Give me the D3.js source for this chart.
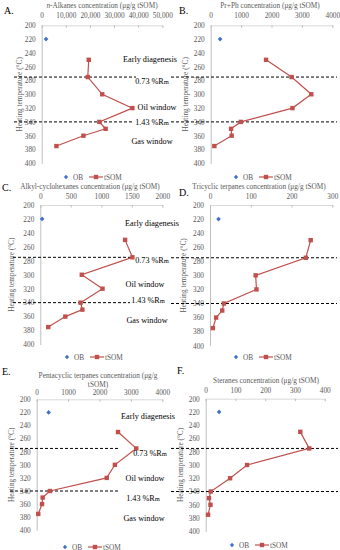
<!DOCTYPE html>
<html><head><meta charset="utf-8">
<script src="https://cdn.jsdelivr.net/npm/d3@7"></script>
<style>body{margin:0;background:#fff}svg{display:block}text{font-family:"Liberation Serif","Times New Roman",serif}</style>
</head><body>
<script>
// ---- data ----
const temps = [250, 275, 300, 320, 340, 350, 360, 375];
const obTemp = [220];
const alkanes = [19500, 19100, 25100, 37600, 23900, 26500, 17300, 6100];
const alkanesOB = [1800];
const prph = [1820, 2660, 3310, 2690, 990, 670, 690, 120];
const prphOB = [310];
const cyclohexanes = [1390, 1510, 680, 1020, 660, 690, 410, 130];
const cyclohexanesOB = [30];
const tricyclic = [247, 235, 112, 114, 34, 30, 15, 7];
const tricyclicOB = [21];
const pentacyclic = [2590, 3170, 2490, 2230, 420, 190, 170, 50];
const pentacyclicOB = [380];
const steranes = [318, 348, 139, 82, 17, 11, 16, 8];
const steranesOB = [45];
const tempTicks = [200, 220, 240, 260, 280, 300, 320, 340, 360, 380, 400];
const ticksA = [0, 10000, 20000, 30000, 40000, 50000];
const ticksB = [0, 1000, 2000, 3000, 4000];
const ticksC = [0, 500, 1000, 1500, 2000];
const ticksD = [0, 100, 200, 300];
const ticksE = [0, 1000, 2000, 3000, 4000];
const ticksF = [0, 100, 200, 300, 400];
const thresholds = [275, 340];
const zoneLabels = ["Early diagenesis", "0.73 %Rm", "Oil window", "1.43 %Rm", "Gas window"];
const seriesNames = ["OB", "tSOM"];

// ---- layout ----
const panels = [
  {id:"A.", vals:alkanes, ob:alkanesOB, ticks:ticksA, fmt:d3.format(","), label:["n-Alkanes concentration (μg/g tSOM)"], italicN:true,
   x0:41.7, x1:162.3, y0:25.3, y1:163.3, tx:4, ty:14, lx:102, ly:8, tly:18, ylx:22, legx:66, legy:177,
   zones:true, zoneY:[59,81,107,122,141], zoneX:[150,152,157,152,152], dash:[[14,136],[14,133]]},
  {id:"B.", vals:prph, ob:prphOB, ticks:ticksB, fmt:d3.format("d"), label:["Pr+Ph concentration (μg/g tSOM)"],
   x0:210.7, x1:332.3, y0:25.3, y1:163.3, tx:179, ty:14, lx:270, ly:8, tly:18, ylx:188, legx:236, legy:177,
   zones:false, dash:[[171,337],[171,337]]},
  {id:"C.", vals:cyclohexanes, ob:cyclohexanesOB, ticks:ticksC, fmt:d3.format("d"), label:["Alkyl-cyclohexanes  concentration (μg/g tSOM)"],
   x0:40.3, x1:162.3, y0:205, y1:344.5, tx:2, ty:191, lx:90, ly:189, tly:199, ylx:14, legx:67, legy:357,
   zones:true, zoneY:[223,260,284,300,320], zoneX:[152,152,145,148,147], dash:[[13,133],[13,130]]},
  {id:"D.", vals:tricyclic, ob:tricyclicOB, ticks:ticksD, fmt:d3.format("d"), label:["Tricyclic terpanes concentration (μg/g tSOM)"],
   x0:210, x1:332.3, y0:205, y1:345.7, tx:179, ty:196, lx:259, ly:189, tly:199, ylx:186, legx:236, legy:357,
   zones:false, dash:[[171,337],[171,337]]},
  {id:"E.", vals:pentacyclic, ob:pentacyclicOB, ticks:ticksE, fmt:d3.format("d"), label:["Pentacyclic terpanes concentration (μg/g","tSOM)"],
   x0:36.7, x1:162.3, y0:399.3, y1:530.3, tx:2, ty:375, lx:98, ly:378, tly:395, ylx:14, legx:65, legy:547,
   zones:true, zoneY:[416,453,478,498,518], zoneX:[148,150,145,143,144], dash:[[10,120],[10,120]]},
  {id:"F.", vals:steranes, ob:steranesOB, ticks:ticksF, fmt:d3.format("d"), label:["Steranes concentration (μg/g tSOM)"],
   x0:205.7, x1:324.7, y0:398.7, y1:531.3, tx:177, ty:374, lx:266, ly:383, tly:393, ylx:183, legx:232, legy:545,
   zones:false, dash:[[171,338],[171,338]]}
];

const red = "#C0504D", blue = "#4472C4", grey = "#595959";
const svg = d3.select("body").append("svg").attr("width", 340).attr("height", 550);

panels.forEach(p => {
  const x = d3.scaleLinear().domain([p.ticks[0], p.ticks[p.ticks.length-1]]).range([p.x0, p.x1]);
  const y = d3.scaleLinear().domain([200, 400]).range([p.y0, p.y1]);
  const g = svg.append("g");

  // title
  g.append("text").attr("x", p.tx).attr("y", p.ty).attr("font-size", 10).attr("fill", "#000").text(p.id);
  // axis label
  p.label.forEach((l, i) => {
    const t = g.append("text").attr("x", p.lx).attr("y", p.ly + i*9).attr("text-anchor", "middle")
      .attr("font-size", 7.3).attr("fill", grey);
    if (p.italicN && i === 0) {
      t.append("tspan").attr("font-style", "italic").text("n");
      t.append("tspan").text(l.slice(1));
    } else t.text(l);
  });

  // x axis (top)
  const xa = g.append("g").attr("transform", `translate(0,${p.y0})`)
    .call(d3.axisTop(x).tickValues(p.ticks).tickFormat(p.fmt).tickSize(-2.5).tickPadding(0));
  xa.select(".domain").attr("stroke", "#d9d9d9");
  xa.selectAll(".tick line").attr("stroke", "#bfbfbf");
  xa.selectAll(".tick text").attr("y", p.tly - p.y0).attr("font-size", 7.3).attr("fill", grey).attr("font-family", '"Liberation Serif",serif');

  // y axis (left)
  const ya = g.append("g").attr("transform", `translate(${p.x0},0)`)
    .call(d3.axisLeft(y).tickValues(tempTicks).tickSize(0).tickPadding(6));
  ya.select(".domain").attr("stroke", "#bfbfbf");
  ya.selectAll(".tick text").attr("font-size", 7.3).attr("fill", grey).attr("font-family", '"Liberation Serif",serif');

  // y label
  g.append("text").attr("transform", `translate(${p.ylx},${(p.y0+p.y1)/2}) rotate(-90)`)
    .attr("text-anchor", "middle").attr("font-size", 7.3).attr("fill", grey).text("Heating temperature (°C)");

  // threshold dashed lines
  thresholds.forEach((t, i) => {
    g.append("line").attr("x1", p.dash[i][0]).attr("x2", p.dash[i][1]).attr("y1", y(t)).attr("y2", y(t))
      .attr("stroke", "#000").attr("stroke-width", 1).attr("stroke-dasharray", "3,2");
  });

  // tSOM line
  const pts = temps.map((t, i) => [x(p.vals[i]), y(t)]);
  g.append("path").attr("d", d3.line()(pts)).attr("fill", "none").attr("stroke", red).attr("stroke-width", 1.2);
  g.selectAll(".sq").data(pts).enter().append("rect")
    .attr("x", d => d[0]-2.2).attr("y", d => d[1]-2.2).attr("width", 4.4).attr("height", 4.4).attr("fill", red);
  // OB
  p.ob.forEach((v, i) => {
    g.append("path").attr("d", d3.symbol(d3.symbolDiamond2, 14)()).attr("fill", blue)
      .attr("transform", `translate(${x(v)},${y(obTemp[i])})`);
  });

  // zone labels
  if (p.zones) {
    zoneLabels.forEach((z, i) => {
      const t = g.append("text").attr("x", p.zoneX[i]).attr("y", p.zoneY[i] + 3).attr("text-anchor", "middle")
        .attr("font-size", 8.2).attr("fill", "#000");
      if (z.endsWith("Rm")) {
        t.append("tspan").text(z.slice(0, -1));
        t.append("tspan").attr("font-size", 6.5).text("m");
      } else t.text(z);
    });
  }

  // legend
  const lg = g.append("g").attr("transform", `translate(${p.legx},${p.legy})`);
  lg.append("path").attr("d", d3.symbol(d3.symbolDiamond2, 12)()).attr("fill", blue);
  lg.append("text").attr("x", 7).attr("y", 2.5).attr("font-size", 7.3).attr("fill", grey).text(seriesNames[0]);
  lg.append("line").attr("x1", 23).attr("x2", 37).attr("stroke", red).attr("stroke-width", 1.2);
  lg.append("rect").attr("x", 27.8).attr("y", -2.2).attr("width", 4.4).attr("height", 4.4).attr("fill", red);
  lg.append("text").attr("x", 38).attr("y", 2.5).attr("font-size", 7.3).attr("fill", grey).text(seriesNames[1]);
});
</script>
</body></html>
